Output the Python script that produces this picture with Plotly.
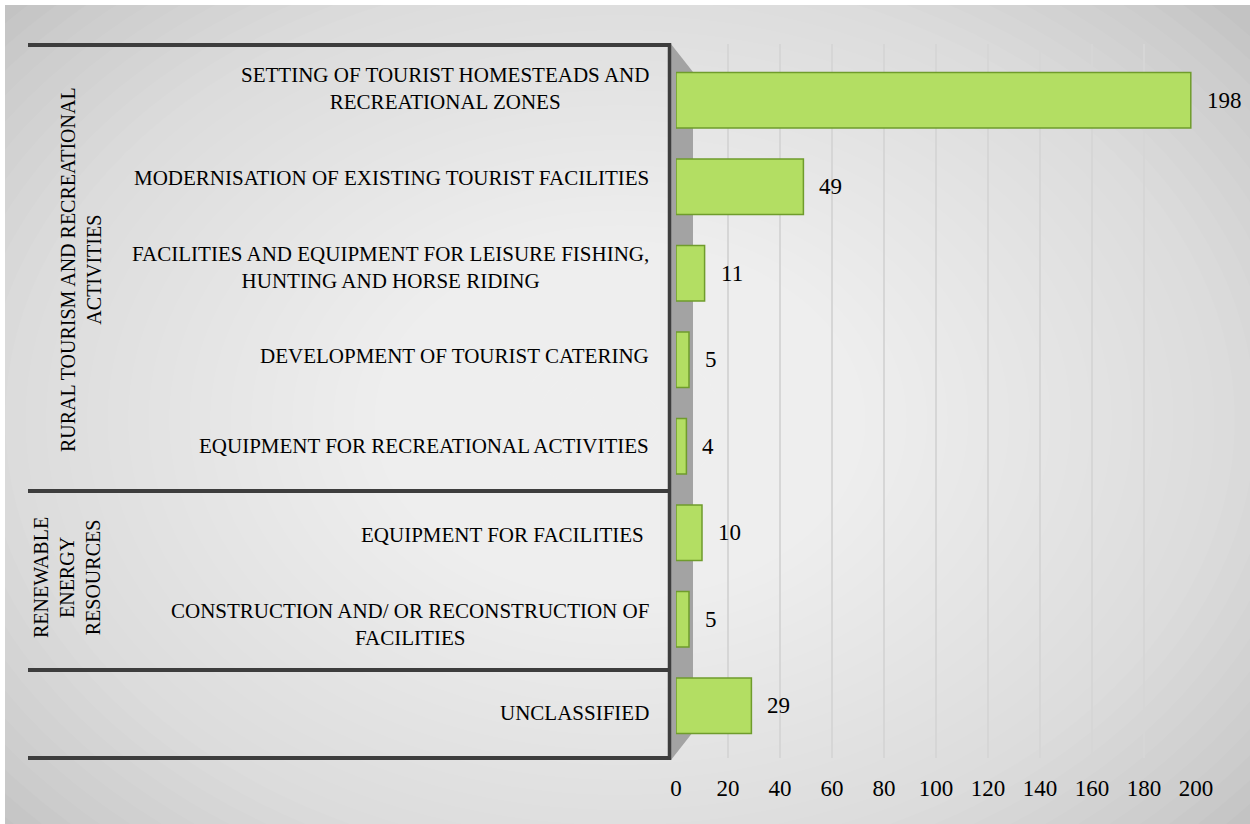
import plotly.graph_objects as go

W, H = 1250, 824

categories = [
    "SETTING OF TOURIST HOMESTEADS AND<br>RECREATIONAL ZONES",
    "MODERNISATION OF EXISTING TOURIST FACILITIES",
    "FACILITIES AND EQUIPMENT FOR LEISURE FISHING,<br>HUNTING AND HORSE RIDING",
    "DEVELOPMENT OF TOURIST CATERING",
    "EQUIPMENT FOR RECREATIONAL ACTIVITIES",
    "EQUIPMENT FOR FACILITIES ",
    "CONSTRUCTION AND/ OR RECONSTRUCTION OF<br>FACILITIES",
    "UNCLASSIFIED",
]
values = [198, 49, 11, 5, 4, 10, 5, 29]
groups = [
    "RURAL TOURISM AND RECREATIONAL<br>ACTIVITIES",
    "RENEWABLE<br>ENERGY<br>RESOURCES",
]
tick_values = [0, 20, 40, 60, 80, 100, 120, 140, 160, 180, 200]


def px(x):
    return x / W


def py(y):
    return 1 - y / H


FONT = "Liberation Serif, Times New Roman, serif"

fig = go.Figure()
fig.add_trace(go.Bar(
    x=values, y=categories, orientation="h", xaxis="x", yaxis="y2",
    marker=dict(color="#b3de63", line=dict(color="#6f9c2c", width=1.5)),
    hoverinfo="x+y",
))

shapes = []
N = 40
cx, cy = 620, 420
for i in range(N):
    t = 1 - i / N
    rx, ry = 820 * t, 600 * t
    shapes.append(dict(type="circle", xref="paper", yref="paper",
                       x0=px(cx - rx), x1=px(cx + rx), y0=py(cy + ry), y1=py(cy - ry),
                       fillcolor="white", opacity=0.055, line=dict(width=0), layer="below"))
shapes.append(dict(type="rect", xref="paper", yref="paper", x0=0, x1=1, y0=py(5), y1=1,
                   fillcolor="white", line=dict(width=0), layer="below"))
shapes.append(dict(type="rect", xref="paper", yref="paper", x0=0, x1=px(5), y0=0, y1=1,
                   fillcolor="white", line=dict(width=0), layer="below"))
wall = "M {a},{b} L {c},{d} L {c},{e} L {a},{f} Z".format(
    a=px(671), b=py(44), c=px(693), d=py(72), e=py(732), f=py(760))
shapes.append(dict(type="path", xref="paper", yref="paper", path=wall,
                   fillcolor="#a3a3a3", line=dict(width=0), layer="between"))
LC = "#3d3d3d"
for yy in [45, 491, 670, 758]:
    shapes.append(dict(type="line", xref="paper", yref="paper", x0=px(28), x1=px(671),
                       y0=py(yy), y1=py(yy), line=dict(color=LC, width=4), layer="above"))
shapes.append(dict(type="line", xref="paper", yref="paper", x0=px(669.5), x1=px(669.5),
                   y0=py(43), y1=py(760), line=dict(color=LC, width=3.5), layer="above"))

annotations = []
for c, v in zip(categories, values):
    annotations.append(dict(xref="paper", yref="y", x=px(651), y=c, text=c,
                            xanchor="right", yanchor="middle", align="center", showarrow=False,
                            font=dict(family=FONT, size=21, color="black")))
    annotations.append(dict(xref="x", yref="y2", x=v, y=c, text=str(v), xanchor="left",
                            yanchor="middle", xshift=14, showarrow=False,
                            font=dict(family=FONT, size=23, color="black")))
annotations.append(dict(xref="paper", yref="paper", x=px(81), y=py(270), text=groups[0],
                        textangle=-90, showarrow=False, align="center",
                        xanchor="center", yanchor="middle",
                        font=dict(family=FONT, size=20, color="black")))
annotations.append(dict(xref="paper", yref="paper", x=px(67), y=py(578), text=groups[1],
                        textangle=-90, showarrow=False, align="center",
                        xanchor="center", yanchor="middle",
                        font=dict(family=FONT, size=20, color="black")))

fig.update_layout(
    template="none",
    width=W, height=H,
    margin=dict(l=0, r=0, t=0, b=0, pad=0, autoexpand=False),
    paper_bgcolor="#c3c3c3",
    plot_bgcolor="rgba(0,0,0,0)",
    showlegend=False,
    bargap=0.36,
    shapes=shapes,
    annotations=annotations,
    xaxis=dict(domain=[px(676), px(1196)], range=[0, 200], tickvals=tick_values,
               anchor="y",
               showgrid=True, gridcolor="#d6d6d6", gridwidth=1.5, zeroline=False,
               showline=False, ticks="", ticklabelstandoff=14, automargin=False,
               tickfont=dict(family=FONT, size=23, color="black"), fixedrange=True),
    # row axis for the label table
    yaxis=dict(domain=[py(758), py(44)], type="category", categoryorder="array",
               categoryarray=categories, range=[len(categories) - 0.5, -0.5],
               showticklabels=False, showgrid=False, zeroline=False, showline=False,
               ticks="", fixedrange=True, automargin=False),
    # bar axis (front faces sit slightly inside the rows, as in the 3-D original)
    yaxis2=dict(domain=[py(749), py(57)], anchor="x", type="category",
                categoryorder="array", categoryarray=categories,
                range=[len(categories) - 0.5, -0.5],
                showticklabels=False, showgrid=False, zeroline=False, showline=False,
                ticks="", fixedrange=True, automargin=False),
)

fig.write_html("out.html")
